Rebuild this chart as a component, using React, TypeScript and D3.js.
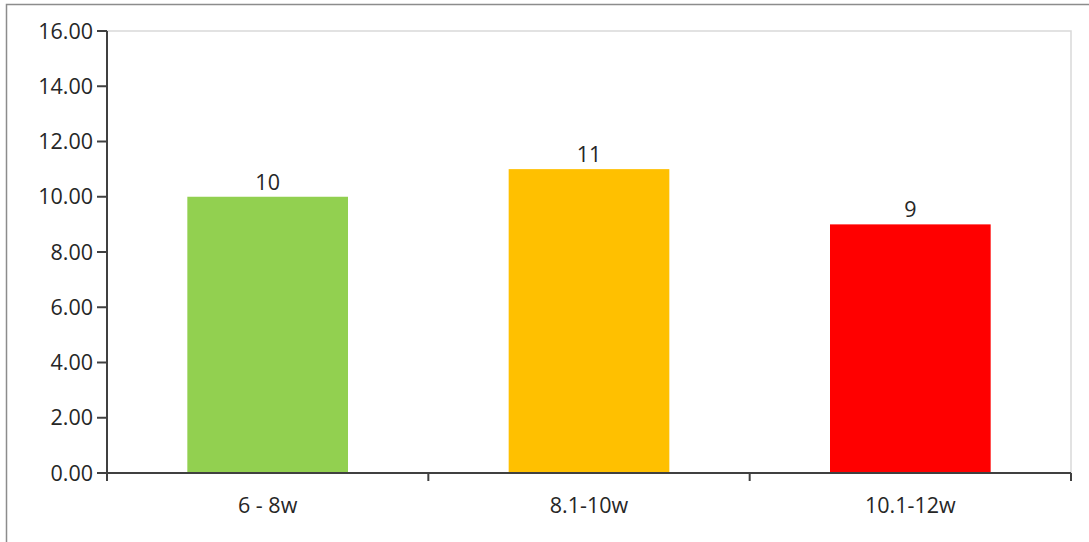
import React from "react";
import * as d3 from "d3";

const categories = ["6 - 8w", "8.1-10w", "10.1-12w"];
const values = [10, 11, 9];
const colors = ["#92d050", "#ffc000", "#ff0000"];
const yTicks = [0, 2, 4, 6, 8, 10, 12, 14, 16];

export default function App() {
  const W = 1089, H = 542;
  const left = 107, right = 1071, top = 31, bottom = 473;
  const x = d3.scaleBand<string>().domain(categories).range([left, right]).paddingInner(0.5).paddingOuter(0.25);
  const y = d3.scaleLinear().domain([0, 16]).range([bottom, top]);
  const step = (right - left) / categories.length;
  const font = "'Open Sans', 'Segoe UI', sans-serif";
  const fs = 21.5;
  return (
    <svg width={W} height={H} style={{ position: "absolute", left: 0, top: 0, background: "#fff" }}>
      <rect x={6.5} y={4.5} width={W + 10} height={H + 10} fill="#fff" stroke="#8c8c8c" strokeWidth={1.5} />
      <rect x={left} y={top} width={right - left} height={bottom - top} fill="#fff" stroke="#d9d9d9" strokeWidth={1.5} />
      {categories.map((c, i) => (
        <rect key={c} x={x(c)} y={y(values[i])} width={x.bandwidth()} height={bottom - y(values[i])} fill={colors[i]} />
      ))}
      {categories.map((c, i) => (
        <text key={"l" + c} x={x(c)! + x.bandwidth() / 2} y={y(values[i]) - 7} textAnchor="middle" fontFamily={font} fontSize={fs} fill="#262626">
          {values[i]}
        </text>
      ))}
      <line x1={left} x2={left} y1={top} y2={bottom} stroke="#404040" strokeWidth={2} />
      <line x1={left} x2={right} y1={bottom} y2={bottom} stroke="#404040" strokeWidth={2} />
      {yTicks.map((t) => (
        <g key={"y" + t}>
          <line x1={left - 10} x2={left} y1={y(t)} y2={y(t)} stroke="#404040" strokeWidth={2} />
          <text x={left - 14} y={y(t)} dy="0.35em" textAnchor="end" fontFamily={font} fontSize={fs} fill="#262626">
            {t.toFixed(2)}
          </text>
        </g>
      ))}
      {d3.range(categories.length + 1).map((i) => (
        <line key={"xt" + i} x1={left + i * step} x2={left + i * step} y1={bottom} y2={bottom + 8} stroke="#404040" strokeWidth={2} />
      ))}
      {categories.map((c) => (
        <text key={"x" + c} x={x(c)! + x.bandwidth() / 2} y={513} textAnchor="middle" fontFamily={font} fontSize={fs} fill="#262626">
          {c}
        </text>
      ))}
    </svg>
  );
}
